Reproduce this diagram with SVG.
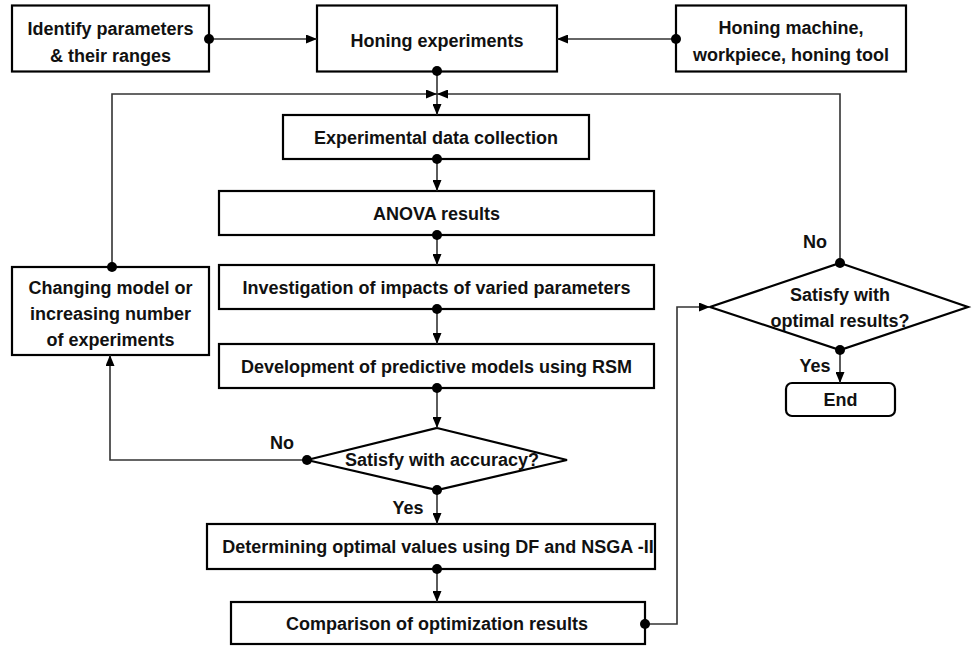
<svg xmlns="http://www.w3.org/2000/svg" width="973" height="646" viewBox="0 0 973 646">
<style>
.box{fill:#fff;stroke:#000;stroke-width:2.2}
.t{font-family:"Liberation Sans",Arial,sans-serif;font-weight:bold;font-size:18px;fill:#111;text-anchor:middle}
.c{fill:none;stroke:#333;stroke-width:1.6}
</style>
<defs>
<marker id="arr" viewBox="0 0 11 9" refX="11" refY="4.5" markerWidth="11" markerHeight="9" markerUnits="userSpaceOnUse" orient="auto">
<path d="M0,0 L11,4.5 L0,9 Z" fill="#000"/>
</marker>
<marker id="dot" viewBox="0 0 12 12" refX="6" refY="6" markerWidth="12" markerHeight="12" markerUnits="userSpaceOnUse">
<circle cx="6" cy="6" r="5" fill="#000"/>
</marker>
</defs>
<rect width="973" height="646" fill="#fff"/>
<g id="identify">
<rect class="box" x="12" y="5.5" width="197" height="66"/>
<text class="t" x="110.5" y="35">Identify parameters</text>
<text class="t" x="110.5" y="62">&amp; their ranges</text>
</g>
<g id="honing">
<rect class="box" x="317" y="5.5" width="240" height="66"/>
<text class="t" x="437" y="47">Honing experiments</text>
</g>
<g id="machine">
<rect class="box" x="676" y="5.5" width="230" height="66"/>
<text class="t" x="791" y="34">Honing machine,</text>
<text class="t" x="791" y="61">workpiece, honing tool</text>
</g>
<g id="collection">
<rect class="box" x="283" y="115" width="306" height="44"/>
<text class="t" x="436" y="144">Experimental data collection</text>
</g>
<g id="anova">
<rect class="box" x="219" y="191" width="435" height="44"/>
<text class="t" x="436.5" y="220">ANOVA results</text>
</g>
<g id="investigation">
<rect class="box" x="219" y="265" width="435" height="44"/>
<text class="t" x="436.5" y="294">Investigation of impacts of varied parameters</text>
</g>
<g id="development">
<rect class="box" x="219" y="344" width="435" height="44"/>
<text class="t" x="436.5" y="373">Development of predictive models using RSM</text>
</g>
<g id="changing">
<rect class="box" x="12" y="267" width="197" height="88"/>
<text class="t" x="110.5" y="294">Changing model or</text>
<text class="t" x="110.5" y="320">increasing number</text>
<text class="t" x="110.5" y="346">of experiments</text>
</g>
<g id="accuracy">
<polygon class="box" points="437,428 567,460 437,490 307,460"/>
<text class="t" x="442" y="466">Satisfy with accuracy?</text>
</g>
<g id="determining">
<rect class="box" x="207" y="524" width="448" height="45"/>
<text class="t" x="438" y="553">Determining optimal values using DF and NSGA -II</text>
</g>
<g id="comparison">
<rect class="box" x="231" y="602" width="414" height="42"/>
<text class="t" x="437" y="630">Comparison of optimization results</text>
</g>
<g id="optimal">
<polygon class="box" points="840,263 968,307 840,350 710,307"/>
<text class="t" x="840" y="301">Satisfy with</text>
<text class="t" x="840" y="327">optimal results?</text>
</g>
<g id="end">
<rect class="box" x="786" y="383" width="109" height="33" rx="6"/>
<text class="t" x="840.5" y="406">End</text>
</g>
<g id="connectors">
<path class="c" d="M209,39 H317" marker-start="url(#dot)" marker-end="url(#arr)"/>
<path class="c" d="M676,39 H557" marker-start="url(#dot)" marker-end="url(#arr)"/>
<path class="c" d="M437,71 V115" marker-start="url(#dot)" marker-end="url(#arr)"/>
<path class="c" d="M112,267 V94 H437" marker-start="url(#dot)" marker-end="url(#arr)"/>
<path class="c" d="M840,263 V94 H437" marker-start="url(#dot)" marker-end="url(#arr)"/>
<path class="c" d="M437,159 V191" marker-start="url(#dot)" marker-end="url(#arr)"/>
<path class="c" d="M437,235 V265" marker-start="url(#dot)" marker-end="url(#arr)"/>
<path class="c" d="M437,309 V344" marker-start="url(#dot)" marker-end="url(#arr)"/>
<path class="c" d="M437,388 V428" marker-start="url(#dot)" marker-end="url(#arr)"/>
<path class="c" d="M307,460 H110 V355" marker-start="url(#dot)" marker-end="url(#arr)"/>
<path class="c" d="M437,490 V524" marker-start="url(#dot)" marker-end="url(#arr)"/>
<path class="c" d="M437,569 V602" marker-start="url(#dot)" marker-end="url(#arr)"/>
<path class="c" d="M645,624 H677 V307 H710" marker-start="url(#dot)" marker-end="url(#arr)"/>
<path class="c" d="M840,350 V383" marker-start="url(#dot)" marker-end="url(#arr)"/>
<text class="t" x="282" y="449">No</text>
<text class="t" x="408" y="514">Yes</text>
<text class="t" x="815" y="248">No</text>
<text class="t" x="815" y="372">Yes</text>
</g>
</svg>
